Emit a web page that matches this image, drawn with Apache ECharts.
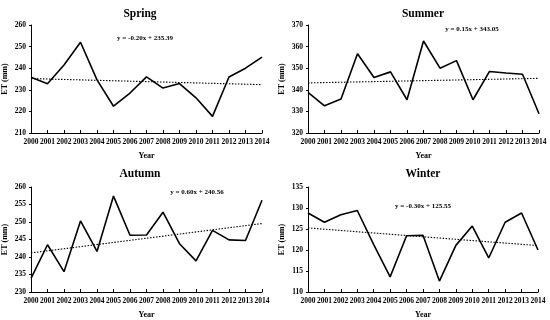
<!DOCTYPE html>
<html><head><meta charset="utf-8">
<script src="https://cdn.jsdelivr.net/npm/echarts@6/dist/echarts.min.js"></script>
<style>html,body{margin:0;padding:0;background:#fff}#c{width:550px;height:320px}</style>
</head><body><div id="c"></div>
<script>
var years = ['2000','2001','2002','2003','2004','2005','2006','2007','2008','2009','2010','2011','2012','2013','2014'];
var seasons = ['Spring','Summer','Autumn','Winter'];
var springET = [235.8,232.8,241.5,252.0,234.6,222.4,228.5,236.0,230.8,232.9,226.3,217.7,235.9,240.0,245.1];
var summerET = [338.8,332.6,335.7,356.7,345.7,348.3,335.4,362.6,350.0,353.5,335.4,348.5,347.8,347.2,328.9];
var autumnET = [233.9,243.5,235.8,250.3,241.6,257.4,246.2,246.3,252.8,243.8,238.9,247.6,244.9,244.7,256.2];
var winterET = [128.8,126.6,128.4,129.4,121.3,113.6,123.4,123.5,112.6,121.1,125.7,118.1,126.6,128.8,120.0];
var springTrend = [235.19, 232.39];
var summerTrend = [343.20, 345.30];
var autumnTrend = [241.16, 249.56];
var winterTrend = [125.25, 121.05];
var equations = ['y = -0.20x + 235.39','y = 0.15x + 343.05','y = 0.60x + 240.56','y = -0.30x + 125.55'];
var yMin = [210, 320, 230, 110];
var yMax = [260, 370, 260, 135];
var yStep = [10, 10, 5, 5];

var values = [springET, summerET, autumnET, winterET];
var trends = [springTrend, summerTrend, autumnTrend, winterTrend];

var FONT = '"Liberation Serif", "Times New Roman", serif';
var grids = [
  {left:31, top:25, width:231, height:108},
  {left:308, top:25, width:231, height:108},
  {left:31, top:187, width:231, height:108},
  {left:308, top:187, width:230, height:107}
];
var titlePos = [[135,3],[418,3],[135,163],[418,163]];
var eqPos = [[145,38],[472,29],[197,192],[423,206]];

var option = {
  animation:false,
  backgroundColor:'#fff',
  title: seasons.map(function(s,i){return {text:s,left:titlePos[i][0],top:titlePos[i][1],textAlign:'center',
    textStyle:{fontFamily:FONT,fontWeight:'bold',fontSize:11.5,color:'#000'}};}),
  grid: grids,
  xAxis: grids.map(function(g,i){return {type:'category',gridIndex:i,data:years,boundaryGap:false,
    name:'Year',nameLocation:'middle',nameGap:19,
    nameTextStyle:{fontFamily:FONT,fontWeight:'bold',fontSize:8,color:'#000'},
    axisLine:{lineStyle:{color:'#000',width:1}},
    axisTick:{show:true,inside:true,length:3,lineStyle:{color:'#000'}},
    axisLabel:{fontFamily:FONT,fontWeight:'bold',fontSize:7.5,color:'#000',margin:5,interval:0},
    splitLine:{show:false}};}),
  yAxis: grids.map(function(g,i){return {type:'value',gridIndex:i,min:yMin[i],max:yMax[i],interval:yStep[i],
    name:'ET (mm)',nameLocation:'middle',nameGap:22,
    nameTextStyle:{fontFamily:FONT,fontWeight:'bold',fontSize:8,color:'#000'},
    axisLine:{show:true,lineStyle:{color:'#000',width:1}},
    axisTick:{show:true,length:2,lineStyle:{color:'#000'}},
    axisLabel:{fontFamily:FONT,fontWeight:'bold',fontSize:7.5,color:'#000',margin:5},
    splitLine:{show:false}};}),
  series: [],
  graphic: equations.map(function(t,i){return {type:'text',left:eqPos[i][0],top:eqPos[i][1],
    style:{text:t,fontFamily:FONT,fontWeight:'bold',fontSize:7,fill:'#000',align:'center',verticalAlign:'middle'}};})
};
// equations positioned by center: use x/y instead
option.graphic = equations.map(function(t,i){return {type:'text',x:eqPos[i][0],y:eqPos[i][1],
    style:{text:t,font:'bold 7px '+FONT,fill:'#000',align:'center',verticalAlign:'middle'}};});

values.forEach(function(v,i){
  option.series.push({type:'line',xAxisIndex:i,yAxisIndex:i,data:v,symbol:'none',
    lineStyle:{color:'#000',width:1.6},z:3});
  var td = years.map(function(y,k){return k===0?trends[i][0]:(k===years.length-1?trends[i][1]:null);});
  option.series.push({type:'line',xAxisIndex:i,yAxisIndex:i,data:td,symbol:'none',connectNulls:true,
    lineStyle:{color:'#000',width:1.1,type:[1.5,1.5]},z:2});
});
var chart = echarts.init(document.getElementById('c'));
chart.setOption(option);
</script></body></html>
